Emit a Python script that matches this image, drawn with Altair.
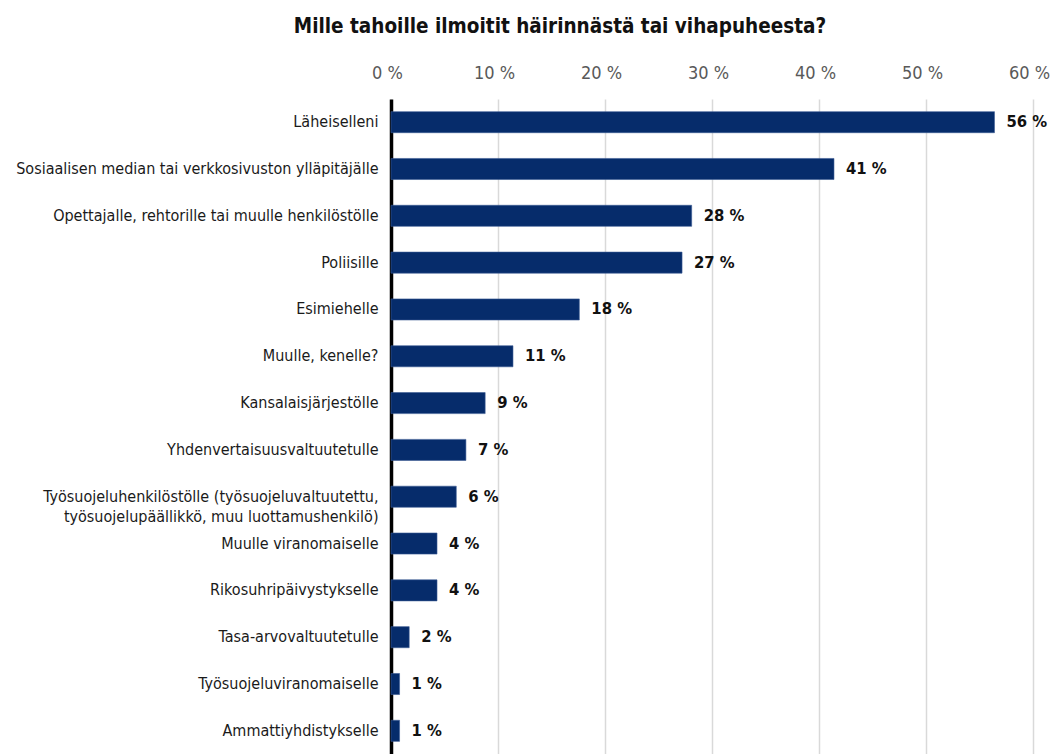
import altair as alt
import pandas as pd

categories = [
    "Läheiselleni",
    "Sosiaalisen median tai verkkosivuston ylläpitäjälle",
    "Opettajalle, rehtorille tai muulle henkilöstölle",
    "Poliisille",
    "Esimiehelle",
    "Muulle, kenelle?",
    "Kansalaisjärjestölle",
    "Yhdenvertaisuusvaltuutetulle",
    "Työsuojeluhenkilöstölle (työsuojeluvaltuutettu,|työsuojelupäällikkö, muu luottamushenkilö)",
    "Muulle viranomaiselle",
    "Rikosuhripäivystykselle",
    "Tasa-arvovaltuutetulle",
    "Työsuojeluviranomaiselle",
    "Ammattiyhdistykselle",
]
values = [56.4, 41.4, 28.1, 27.2, 17.6, 11.4, 8.8, 7.0, 6.1, 4.3, 4.3, 1.7, 0.8, 0.8]
value_labels = ["56 %", "41 %", "28 %", "27 %", "18 %", "11 %", "9 %", "7 %",
                "6 %", "4 %", "4 %", "2 %", "1 %", "1 %"]
x_ticks = [0, 10, 20, 30, 40, 50, 60]

df = pd.DataFrame({"cat": categories, "val": values, "lab": value_labels})

FONT = "DejaVu Sans Condensed, Liberation Sans Narrow, Roboto, sans-serif"
NAVY = "#062c6b"

y_enc = alt.Y(
    "cat:N",
    sort=categories,
    title=None,
    scale=alt.Scale(paddingInner=0.55, paddingOuter=0.27),
    axis=alt.Axis(
        domain=True, domainColor="#000000", domainWidth=3.5,
        ticks=False, labelFontSize=16, labelColor="#1a1a1a", labelFont=FONT,
        labelPadding=13, labelLimit=0, labelLineHeight=20,
        labelExpr="split(datum.label, '|')",
    ),
)

bars = alt.Chart(df).mark_bar(color=NAVY, stroke="#3a5a94", strokeWidth=0.6).encode(
    x=alt.X(
        "val:Q",
        title=None,
        scale=alt.Scale(domain=[0, 60], nice=False),
        axis=alt.Axis(
            orient="top", values=x_ticks, grid=True, gridColor="#d9d9d9", gridWidth=1.5,
            domain=False, ticks=False, labelColor="#595959", labelFontSize=18,
            labelFont=FONT, labelPadding=17, labelExpr="datum.value + ' %'",
            labelFlush=False, labelOffset=-4,
        ),
    ),
    y=y_enc,
)

texts = alt.Chart(df).mark_text(
    align="left", baseline="middle", dx=12, fontSize=16.5, fontWeight="bold",
    font=FONT, color="#111111",
).encode(
    x="val:Q",
    y=alt.Y("cat:N", sort=categories),
    text="lab:N",
)

chart = (bars + texts).properties(
    width=642,
    height=655,
    autosize=alt.AutoSizeParams(type="none"),
    padding={"top": 91, "left": 383, "right": 21, "bottom": 0},
    title=alt.TitleParams(
        "Mille tahoille ilmoitit häirinnästä tai vihapuheesta?",
        font=FONT, fontSize=20.5, fontWeight="bold", color="#111111",
        anchor="middle", frame="group", dx=-152, offset=27,
    ),
).configure_view(stroke=None)

chart.save("out.html", embed_options={"renderer": "svg", "actions": False})
